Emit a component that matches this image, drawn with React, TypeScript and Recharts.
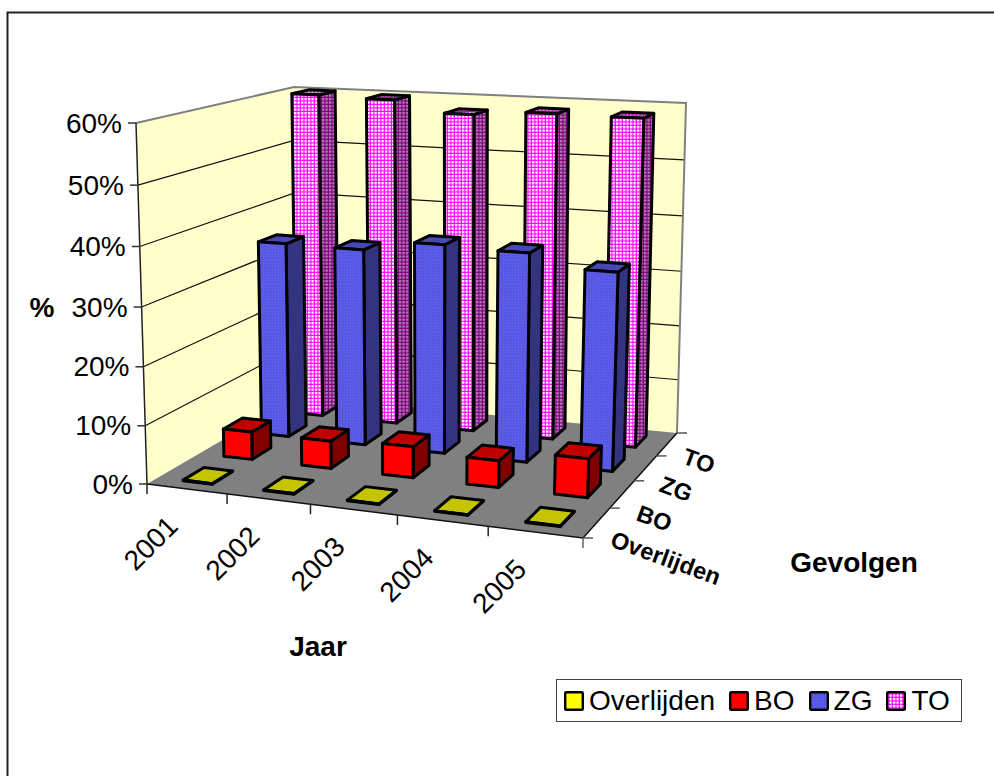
import React from "react";
import { Bar, BarChart, Customized, Legend, XAxis, YAxis } from "recharts";

// percentages, one list per row of the 3D chart
const jaren = ["2001", "2002", "2003", "2004", "2005"];
const gevolgen = ["Overlijden", "BO", "ZG", "TO"];
const overlijden = [0.001, 0.001, 0.001, 0.001, 0.001];
const bo = [0.049, 0.048, 0.054, 0.046, 0.066];
const zg = [0.353, 0.352, 0.371, 0.367, 0.345];
const to = [0.6, 0.597, 0.577, 0.585, 0.584];
const pctTicks = [0, 0.1, 0.2, 0.3, 0.4, 0.5, 0.6];

const data = jaren.map((jaar, i) => ({
  jaar,
  Overlijden: overlijden[i],
  BO: bo[i],
  ZG: zg[i],
  TO: to[i],
}));

const FONT = "Liberation Sans, Arial, sans-serif";
const PLOT = { left: 147, top: 123, width: 436, height: 361 };

type Pt = [number, number];
type Quad = [Pt, Pt, Pt, Pt];

// unit square -> quad, corners (0,0) (1,0) (1,1) (0,1)
const squareToQuad = ([p0, p1, p2, p3]: Quad) => {
  const dx1 = p1[0] - p2[0];
  const dx2 = p3[0] - p2[0];
  const dy1 = p1[1] - p2[1];
  const dy2 = p3[1] - p2[1];
  const sx = p0[0] - p1[0] + p2[0] - p3[0];
  const sy = p0[1] - p1[1] + p2[1] - p3[1];
  const den = dx1 * dy2 - dx2 * dy1;
  const g = (sx * dy2 - dx2 * sy) / den;
  const h = (dx1 * sy - sx * dy1) / den;
  return (u: number, d: number): Pt => {
    const w = g * u + h * d + 1;
    return [
      ((p1[0] - p0[0] + g * p1[0]) * u + (p3[0] - p0[0] + h * p3[0]) * d + p0[0]) / w,
      ((p1[1] - p0[1] + g * p1[1]) * u + (p3[1] - p0[1] + h * p3[1]) * d + p0[1]) / w,
    ];
  };
};

const floorAt = squareToQuad([[147, 484], [583, 538], [677, 433], [298, 396]]);
const roofAt = squareToQuad([[136, 123], [597, 148], [686, 103], [294, 87]]);

// u along the years, d into the depth, v up the value axis (all 0..1)
const project = (u: number, d: number, v: number): Pt => {
  const t = v / (1.04 - 0.04 * v);
  const a = floorAt(u, d);
  const b = roofAt(u, d);
  return [a[0] + (b[0] - a[0]) * t, a[1] + (b[1] - a[1]) * t];
};

const poly = (pts: Pt[]) => pts.map((p) => p.join(",")).join(" ");
const flatU = (x: number) => (x - PLOT.left) / PLOT.width;
const flatV = (y: number) => (PLOT.top + PLOT.height - y) / PLOT.height;

const makeBar =
  (row: number, front: string, top: string, side: string) =>
  ({ x, y, width, height }: any) => {
    const u0 = flatU(x);
    const u1 = flatU(x + width);
    const v = flatV(y);
    const v0 = flatV(y + height);
    const d0 = (row + 0.25) / gevolgen.length;
    const d1 = (row + 0.75) / gevolgen.length;
    const line = { stroke: "#000", strokeWidth: 3, strokeLinejoin: "round" as const };
    return (
      <g>
        <polygon
          points={poly([project(u1, d0, v0), project(u1, d1, v0), project(u1, d1, v), project(u1, d0, v)])}
          fill={side}
          {...line}
        />
        <polygon
          points={poly([project(u0, d0, v), project(u1, d0, v), project(u1, d1, v), project(u0, d1, v)])}
          fill={top}
          {...line}
        />
        <polygon
          points={poly([project(u0, d0, v0), project(u1, d0, v0), project(u1, d0, v), project(u0, d0, v)])}
          fill={front}
          {...line}
        />
      </g>
    );
  };

const Patterns = () => (
  <defs>
    <pattern id="toFront" width="3.5" height="3.5" patternUnits="userSpaceOnUse">
      <rect width="3.5" height="3.5" fill="#ff00ff" />
      <rect width="2.3" height="2.3" fill="#ffffff" />
    </pattern>
    <pattern id="toTop" width="3.5" height="3.5" patternUnits="userSpaceOnUse">
      <rect width="3.5" height="3.5" fill="#c000c0" />
      <rect width="2.3" height="2.3" fill="#c0c0c0" />
    </pattern>
    <pattern id="toSide" width="3.5" height="3.5" patternUnits="userSpaceOnUse">
      <rect width="3.5" height="3.5" fill="#800080" />
      <rect width="2.3" height="2.3" fill="#b080b0" />
    </pattern>
    <pattern id="zgFront" width="3" height="3" patternUnits="userSpaceOnUse">
      <rect width="3" height="3" fill="#5c5ce8" />
      <rect width="1.5" height="1.5" fill="#5050d8" />
    </pattern>
    <pattern id="zgTop" width="3" height="3" patternUnits="userSpaceOnUse">
      <rect width="3" height="3" fill="#4a4ab8" />
      <rect width="1.5" height="1.5" fill="#4040a8" />
    </pattern>
  </defs>
);

// back walls, floor, grid, axis lines and the titles
const Frame = () => {
  const rows = gevolgen.length;
  const cols = jaren.length;
  return (
    <g>
      <Patterns />
      <path d="M7.5 776 L7.5 12.5 L994 12.5" fill="none" stroke="#222" strokeWidth={2} />
      <polygon
        points={poly([project(0, 0, 0), project(0, 1, 0), project(0, 1, 1), project(0, 0, 1)])}
        fill="#ffffcc"
      />
      <polygon
        points={poly([project(0, 1, 0), project(1, 1, 0), project(1, 1, 1), project(0, 1, 1)])}
        fill="#ffffcc"
      />
      {pctTicks.slice(1, -1).map((t) => {
        const v = t / 0.6;
        const a = project(0, 0, v);
        const b = project(0, 1, v);
        const c = project(1, 1, v);
        return <polyline key={t} points={poly([a, b, c])} fill="none" stroke="#111" strokeWidth={1.2} />;
      })}
      <polygon
        points={poly([project(0, 0, 0), project(1, 0, 0), project(1, 1, 0), project(0, 1, 0)])}
        fill="#808080"
      />
      <polyline
        points={poly([project(0, 0, 1), project(0, 1, 1), project(1, 1, 1), project(1, 1, 0)])}
        fill="none"
        stroke="#808080"
        strokeWidth={2}
      />
      <polyline
        points={poly([project(0, 0, 0), project(0, 0, 1)])}
        fill="none"
        stroke="#222"
        strokeWidth={1.5}
      />
      <polyline
        points={poly([project(0, 0, 0), project(1, 0, 0), project(1, 1, 0)])}
        fill="none"
        stroke="#111"
        strokeWidth={1.5}
      />
      {jaren.map((_, i) => {
        const [x, y] = project(i / cols, 0, 0);
        return <line key={i} x1={x} y1={y} x2={x} y2={y + 10} stroke="#222" strokeWidth={1.5} />;
      })}
      <line x1={583} y1={538} x2={583} y2={548} stroke="#666" strokeWidth={1.5} />
      {Array.from({ length: rows + 1 }, (_, i) => {
        const [x, y] = project(1, i / rows, 0);
        return <line key={i} x1={x} y1={y} x2={x + 10} y2={y} stroke="#555" strokeWidth={1.5} />;
      })}
    </g>
  );
};

const Titles = () => {
  const common = { fontFamily: FONT, fontWeight: 700, fill: "#000" };
  const labelPos: Pt[] = [[609, 546], [635, 520], [658, 491], [681, 463]];
  return (
    <g>
      {gevolgen.map((g, i) => (
        <text
          key={g}
          {...common}
          fontSize={23.5}
          transform={`translate(${labelPos[i][0]},${labelPos[i][1]}) rotate(20)`}
        >
          {g}
        </text>
      ))}
      <text {...common} x={42} y={317} fontSize={28} textAnchor="middle">
        %
      </text>
      <text {...common} x={318} y={656} fontSize={28} textAnchor="middle">
        Jaar
      </text>
      <text {...common} x={854} y={572} fontSize={28} textAnchor="middle">
        Gevolgen
      </text>
    </g>
  );
};

const YearTick = ({ x, payload }: any) => {
  const [px, py] = project(flatU(x), 0, 0);
  return (
    <text
      fontFamily={FONT}
      fontSize={28}
      fill="#000"
      textAnchor="end"
      transform={`translate(${px - 7},${py + 39}) rotate(-45)`}
    >
      {payload.value}
    </text>
  );
};

const PctTick = ({ y, payload }: any) => {
  const [px, py] = project(0, 0, flatV(y));
  return (
    <g>
      <line x1={px - 8} y1={py} x2={px} y2={py} stroke="#333" strokeWidth={1.5} />
      <text fontFamily={FONT} fontSize={28} fill="#000" textAnchor="end" x={px - 14} y={py + 9.5}>
        {`${Math.round(payload.value * 100)}%`}
      </text>
    </g>
  );
};

const legendItems = [
  { name: "Overlijden", fill: "#ffff00" },
  { name: "BO", fill: "#ff0000" },
  { name: "ZG", fill: "url(#zgFront)" },
  { name: "TO", fill: "url(#toFront)" },
];

const LegendBox = () => (
  <div
    style={{
      boxSizing: "border-box",
      width: 406,
      height: 43,
      border: "1.5px solid #444",
      background: "#fff",
      display: "flex",
      alignItems: "center",
      paddingLeft: 7,
      fontFamily: FONT,
      fontSize: 28,
      color: "#000",
    }}
  >
    {legendItems.map((item) => (
      <span key={item.name} style={{ display: "flex", alignItems: "center", marginRight: 14 }}>
        <svg width={20} height={20} style={{ marginRight: 5 }}>
          <rect x={1.2} y={1.2} width={17.6} height={17.6} rx={1} fill={item.fill} stroke="#000" strokeWidth={2.4} />
        </svg>
        {item.name}
      </span>
    ))}
  </div>
);

export default function App() {
  const axisW = 60;
  const axisH = 30;
  return (
    <div style={{ position: "absolute", left: 0, top: 0, width: 994, height: 776, background: "#fff" }}>
      <BarChart
        width={994}
        height={776}
        data={data}
        barSize={32}
        barGap={-32}
        margin={{
          left: PLOT.left - axisW,
          top: PLOT.top,
          right: 994 - PLOT.left - PLOT.width,
          bottom: 776 - PLOT.top - PLOT.height - axisH,
        }}
      >
        <Customized component={Frame} />
        <XAxis dataKey="jaar" height={axisH} axisLine={false} tickLine={false} tick={YearTick} interval={0} />
        <YAxis
          width={axisW}
          domain={[0, 0.6]}
          ticks={pctTicks}
          axisLine={false}
          tickLine={false}
          tick={PctTick}
          interval={0}
        />
        <Bar dataKey="TO" isAnimationActive={false} shape={makeBar(3, "url(#toFront)", "url(#toTop)", "url(#toSide)")} />
        <Bar dataKey="ZG" isAnimationActive={false} shape={makeBar(2, "url(#zgFront)", "url(#zgTop)", "#333380")} />
        <Bar dataKey="BO" isAnimationActive={false} shape={makeBar(1, "#ff0000", "#c00000", "#800000")} />
        <Bar dataKey="Overlijden" isAnimationActive={false} shape={makeBar(0, "#ffff00", "#c4c400", "#808000")} />
        <Customized component={Titles} />
        <Legend
          layout="horizontal"
          align="center"
          verticalAlign="middle"
          content={LegendBox}
          wrapperStyle={{ left: 556, top: 679, width: 406, height: 43 }}
        />
      </BarChart>
    </div>
  );
}
